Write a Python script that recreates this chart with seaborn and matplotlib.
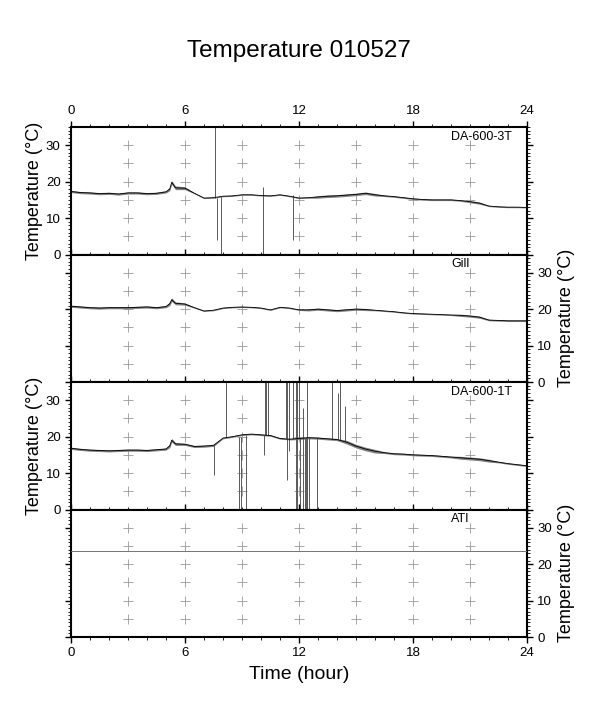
import numpy as np
import matplotlib
matplotlib.use("Agg")
import matplotlib.pyplot as plt
from matplotlib.ticker import MultipleLocator
import seaborn as sns

# readings taken off the original plot (hour of day, deg C)
hours = [0, 0.5, 1, 1.5, 2, 2.5, 3, 3.5, 4, 4.5, 5, 5.2, 5.3, 5.5,
         6, 6.5, 7, 7.5, 8, 8.5, 9, 9.5, 10, 10.5, 11, 11.5,
         12, 12.5, 13, 13.5, 14, 14.5, 15, 15.5, 16, 16.5, 17, 17.5,
         18, 18.5, 19, 19.5, 20, 20.5, 21, 21.5, 22, 22.5, 23, 23.5, 24]

da3t = [17.3, 17.0, 16.9, 16.7, 16.8, 16.6, 16.9, 16.9, 16.7, 16.8, 17.2, 18.0, 19.8, 18.3,
        18.2, 16.8, 15.5, 15.6, 16.0, 16.1, 16.4, 16.4, 16.2, 16.1, 16.4, 16.0,
        15.5, 15.6, 15.8, 16.0, 16.1, 16.3, 16.5, 16.8, 16.4, 16.1, 15.9, 15.6,
        15.3, 15.1, 15.0, 15.0, 15.0, 14.8, 14.5, 14.1, 13.3, 13.1, 13.0, 13.0, 12.9]
da3t_spread = [0.3, 0.3, 0.3, 0.3, 0.3, 0.3, 0.3, 0.3, 0.3, 0.3, 0.3, 0.5, 0.5, 0.5,
               0.4, 0.15, 0.15, 0.15, 0.15, 0.15, 0.15, 0.15, 0.15, 0.15, 0.15, 0.15,
               0.15, 0.15, 0.35, 0.35, 0.35, 0.35, 0.35, 0.35, 0.35, 0.2, 0.2, 0.2,
               0.2, 0.2, 0.2, 0.2, 0.2, 0.2, 0.3, 0.3, 0.15, 0.15, 0.15, 0.15, 0.15]

gill = [20.8, 20.6, 20.4, 20.3, 20.4, 20.4, 20.4, 20.5, 20.6, 20.4, 20.7, 21.5, 22.6, 21.6,
        21.4, 20.4, 19.5, 19.7, 20.3, 20.5, 20.6, 20.5, 20.3, 19.8, 20.5, 20.3,
        19.8, 19.8, 20.0, 19.8, 19.6, 19.8, 20.0, 19.9, 19.7, 19.5, 19.3, 19.0,
        18.8, 18.7, 18.6, 18.5, 18.4, 18.3, 18.1, 17.8, 17.0, 16.9, 16.8, 16.8, 16.8]
gill_spread = [0.3, 0.3, 0.3, 0.3, 0.3, 0.3, 0.3, 0.3, 0.3, 0.3, 0.3, 0.5, 0.5, 0.4,
               0.3, 0.15, 0.15, 0.15, 0.15, 0.15, 0.15, 0.15, 0.15, 0.15, 0.15, 0.15,
               0.15, 0.3, 0.3, 0.3, 0.3, 0.3, 0.3, 0.3, 0.15, 0.15, 0.15, 0.15,
               0.15, 0.15, 0.15, 0.15, 0.15, 0.3, 0.3, 0.3, 0.2, 0.2, 0.2, 0.2, 0.2]

da1t = [16.8, 16.5, 16.3, 16.2, 16.1, 16.2, 16.3, 16.3, 16.2, 16.4, 16.6, 17.5, 19.0, 18.0,
        17.9, 17.3, 17.4, 17.6, 19.6, 20.0, 20.5, 20.7, 20.5, 20.3, 19.5, 19.3,
        19.5, 19.7, 19.6, 19.4, 19.2, 18.5, 17.4, 16.6, 16.0, 15.6, 15.3, 15.2,
        15.0, 14.9, 14.8, 14.6, 14.4, 14.2, 14.0, 13.8, 13.4, 13.0, 12.6, 12.3, 12.0]
da1t_spread = [0.3, 0.3, 0.3, 0.3, 0.3, 0.3, 0.3, 0.3, 0.3, 0.3, 0.3, 0.5, 0.5, 0.4,
               0.3, 0.3, 0.3, 0.3, 0.2, 0.2, 0.2, 0.2, 0.2, 0.2, 0.2, 0.2,
               0.3, 0.3, 0.3, 0.3, 0.3, 0.5, 0.5, 0.5, 0.5, 0.25, 0.25, 0.25,
               0.25, 0.25, 0.25, 0.25, 0.25, 0.4, 0.4, 0.4, 0.4, 0.2, 0.2, 0.2, 0.2]

ati = [23.6] * len(hours)
ati_spread = [0.0] * len(hours)

# spikes: hour, low, high
da3t_spike_t = [7.6, 7.67, 7.9, 10.1, 11.7]
da3t_spike_lo = [15.6, 3.9, 0, 0, 3.9]
da3t_spike_hi = [35, 15.6, 15.8, 18.5, 16.2]

da1t_spike_t = [7.5, 8.14, 8.86, 8.93, 9.19, 10.15, 10.2, 10.25, 10.35, 11.3, 11.35, 11.45,
                11.67, 11.84, 11.9, 12.0, 12.05, 12.2, 12.3, 12.35, 12.42, 12.5, 12.93,
                13.76, 14.03, 14.17, 14.42]
da1t_spike_lo = [9.5, 19.8, 0, 0, 0, 15.0, 20.5, 20.5, 20.5, 19.5, 8.0, 16.0,
                 19.3, 0, 0, 19.5, 0, 0, 0, 0, 0, 0, 0,
                 19.4, 19.3, 19.2, 18.5]
da1t_spike_hi = [17.6, 35, 20.0, 20.0, 20.5, 20.5, 35, 35, 35, 35, 35, 35,
                 35, 35, 35, 35, 19.5, 28.0, 19.5, 19.5, 35, 19.7, 19.6,
                 35, 32.0, 35, 28.5]

names = ["DA-600-3T", "Gill", "DA-600-1T", "ATI"]
series = [da3t, gill, da1t, ati]
spreads = [da3t_spread, gill_spread, da1t_spread, ati_spread]
spikes = [(da3t_spike_t, da3t_spike_lo, da3t_spike_hi), None,
          (da1t_spike_t, da1t_spike_lo, da1t_spike_hi), None]

sns.set_theme(style="ticks", rc={"axes.edgecolor": "black", "xtick.color": "black",
                                 "ytick.color": "black", "text.color": "black",
                                 "axes.labelcolor": "black"})
plt.rcParams['font.family'] = ['Liberation Sans', 'DejaVu Sans']

W, H = 598, 709
fig = plt.figure(figsize=(W / 100, H / 100), dpi=100)

ax_left, ax_w = 71 / W, 456 / W
panel_h = 127.5
top0 = 127

gx, gy = np.meshgrid(np.arange(3, 22, 3), np.arange(5, 31, 5))

for i in range(4):
    bottom = 1 - (top0 + panel_h * (i + 1)) / H
    ax = fig.add_axes([ax_left, bottom, ax_w, panel_h / H])

    # light "+" grid
    ax.plot(gx.ravel(), gy.ravel(), '+', color='0.6', ms=7, mew=0.6, zorder=1)

    vals = np.array(series[i])
    sp = np.array(spreads[i])
    if i == 3:
        sns.lineplot(x=hours, y=vals, ax=ax, color='0.45', lw=0.7, zorder=3)
    else:
        ax.fill_between(hours, vals - sp, vals + sp, color='0.5', lw=0, zorder=2)
        sns.lineplot(x=hours, y=vals, ax=ax, color='black', lw=0.6, zorder=3)

    if spikes[i] is not None:
        st, slo, shi = spikes[i]
        ax.vlines(st, slo, shi, colors='0.35', lw=0.7, zorder=2)

    ax.text(20.0, 32.3, names[i], fontsize=9, ha='left', va='center', zorder=4)

    ax.set_xlim(0, 24)
    ax.set_ylim(0, 35)
    ax.xaxis.set_major_locator(MultipleLocator(6))
    ax.xaxis.set_minor_locator(MultipleLocator(1))
    ax.yaxis.set_major_locator(MultipleLocator(10))
    ax.yaxis.set_minor_locator(MultipleLocator(1))
    for s in ax.spines.values():
        s.set_linewidth(1.5)
    ax.tick_params(which='both', direction='out', top=True, bottom=True,
                   left=True, right=True, labelsize=9.5, pad=3)
    ax.tick_params(which='major', length=4.5, width=1)
    ax.tick_params(which='minor', length=2, width=0.6)
    ax.tick_params(axis='x', labeltop=(i == 0), labelbottom=(i == 3))
    left_side = (i % 2 == 0)
    ax.tick_params(axis='y', labelleft=left_side, labelright=not left_side)

    ax.set_ylabel("Temperature (°C)", fontsize=13)
    if left_side:
        ax.yaxis.set_label_position('left')
        ax.yaxis.set_label_coords(-0.062, 0.5)
    else:
        ax.yaxis.set_label_position('right')
        ax.yaxis.set_label_coords(1.068, 0.5)

    if i == 3:
        ax.set_xlabel("Time (hour)", fontsize=14, labelpad=5)
    else:
        ax.set_xlabel("")

fig.text(0.5, 1 - 51 / H, "Temperature 010527", ha='center', va='center', fontsize=17.5)

fig.savefig("out.png", dpi=100)
